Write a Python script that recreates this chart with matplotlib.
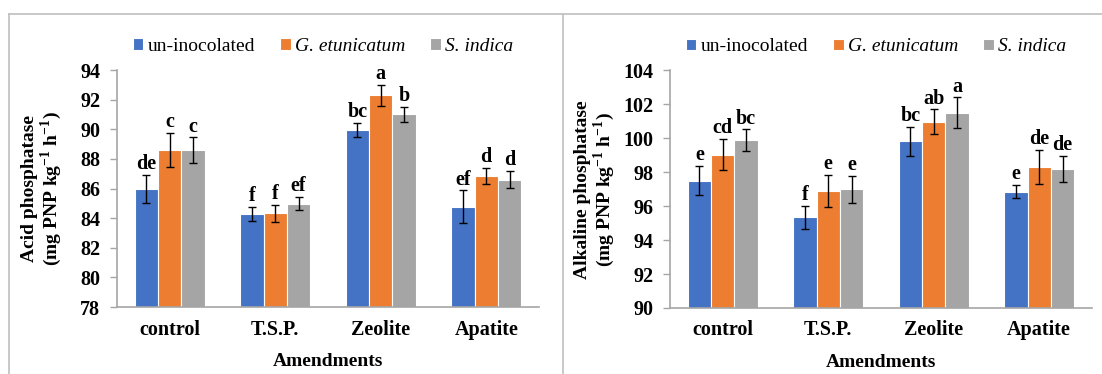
import numpy as np
import matplotlib
matplotlib.use("Agg")
import matplotlib.pyplot as plt
from matplotlib.lines import Line2D

plt.rcParams['font.family'] = ['Liberation Serif', 'DejaVu Serif']
plt.rcParams['mathtext.fontset'] = 'custom'
plt.rcParams['mathtext.rm'] = 'Liberation Serif:bold'
plt.rcParams['mathtext.bf'] = 'Liberation Serif:bold'

# data
amendments = ['control', 'T.S.P.', 'Zeolite', 'Apatite']
series = ['un-inocolated', 'G. etunicatum', 'S. indica']

acid_un = [85.95, 84.28, 89.94, 84.76]
acid_ge = [88.63, 84.33, 92.28, 86.87]
acid_si = [88.59, 84.98, 91.00, 86.60]
acid_un_err = [0.95, 0.46, 0.48, 1.12]
acid_ge_err = [1.15, 0.57, 0.71, 0.54]
acid_si_err = [0.87, 0.45, 0.50, 0.58]
acid_un_let = ['de', 'f', 'bc', 'ef']
acid_ge_let = ['c', 'f', 'a', 'd']
acid_si_let = ['c', 'ef', 'b', 'd']

alk_un = [97.50, 95.34, 99.82, 96.86]
alk_ge = [99.04, 96.90, 100.98, 98.31]
alk_si = [99.90, 97.00, 101.51, 98.19]
alk_un_err = [0.86, 0.68, 0.86, 0.38]
alk_ge_err = [0.92, 0.95, 0.73, 1.02]
alk_si_err = [0.63, 0.79, 0.90, 0.79]
alk_un_let = ['e', 'f', 'bc', 'e']
alk_ge_let = ['cd', 'e', 'ab', 'de']
alk_si_let = ['bc', 'e', 'a', 'de']

colors = ['#4472C4', '#ED7D31', '#A5A5A5']
axis_grey = '#a6a6a6'


def draw_panel(ax, vals, errs, lets, ylim, ylabel):
    x = np.arange(len(amendments))
    w = 0.221
    for i in range(3):
        pos = x + (i - 1) * w
        ax.bar(pos, vals[i], width=w, color=colors[i], edgecolor='white',
               linewidth=0.8, label=series[i], zorder=2)
        ax.errorbar(pos, vals[i], yerr=errs[i], fmt='none', ecolor='black',
                    elinewidth=1.0, capsize=3, capthick=1.0, zorder=3)
        for p, v, e, t in zip(pos, vals[i], errs[i], lets[i]):
            ax.annotate(t, (p, v + e), xytext=(0, 0.5), textcoords='offset points',
                        ha='center', va='bottom', fontsize=14.5, fontweight='bold')
    ax.set_ylim(*ylim)
    ax.set_yticks(np.arange(ylim[0], ylim[1] + 0.1, 2))
    ax.set_xlim(-0.5, len(amendments) - 0.5)
    ax.set_xticks(x)
    ax.set_xticklabels(amendments)
    for s in ['top', 'right']:
        ax.spines[s].set_visible(False)
    for s in ['left', 'bottom']:
        ax.spines[s].set_color(axis_grey)
        ax.spines[s].set_linewidth(1.2)
    ax.tick_params(axis='y', length=5, width=1.0, color=axis_grey, pad=7,
                   labelsize=14.5)
    ax.tick_params(axis='x', length=0, pad=9, labelsize=14.5)
    for lab in ax.get_xticklabels() + ax.get_yticklabels():
        lab.set_fontweight('bold')
    ax.set_xlabel('Amendments', fontsize=14, fontweight='bold', labelpad=10)
    ax.set_ylabel(ylabel, fontsize=14, fontweight='bold', linespacing=1.0)
    ax.yaxis.set_label_coords(-0.126, 0.5)

    leg = ax.legend(loc='center', bbox_to_anchor=(0.488, 1.10), ncol=3,
                    frameon=False, fontsize=14, handlelength=0.55,
                    handleheight=0.55, handletextpad=0.2, columnspacing=1.3,
                    borderaxespad=0)
    for t in leg.get_texts()[1:]:
        t.set_style('italic')


fig = plt.figure(figsize=(11.02, 3.74), dpi=100)
ax1 = fig.add_axes([0.1062, 0.1791, 0.3829, 0.6337])
ax2 = fig.add_axes([0.6080, 0.1765, 0.3829, 0.6350])

draw_panel(ax1, [acid_un, acid_ge, acid_si],
           [acid_un_err, acid_ge_err, acid_si_err],
           [acid_un_let, acid_ge_let, acid_si_let],
           (78, 94), 'Acid phosphatase\n(mg PNP kg$^{-1}$ h$^{-1}$)')
draw_panel(ax2, [alk_un, alk_ge, alk_si],
           [alk_un_err, alk_ge_err, alk_si_err],
           [alk_un_let, alk_ge_let, alk_si_let],
           (90, 104), 'Alkaline phosphatase\n(mg PNP kg$^{-1}$ h$^{-1}$)')

# chart frame lines (cropped chart borders)
border = '#bfbfbf'
top_y = 1 - 14 / 374
fig.add_artist(Line2D([9 / 1102, 1], [top_y, top_y], color=border, lw=1.2))
fig.add_artist(Line2D([9 / 1102, 9 / 1102], [0, top_y], color=border, lw=1.2))
fig.add_artist(Line2D([563 / 1102, 563 / 1102], [0, top_y], color=border, lw=1.2))

fig.savefig('out.png', dpi=100)
